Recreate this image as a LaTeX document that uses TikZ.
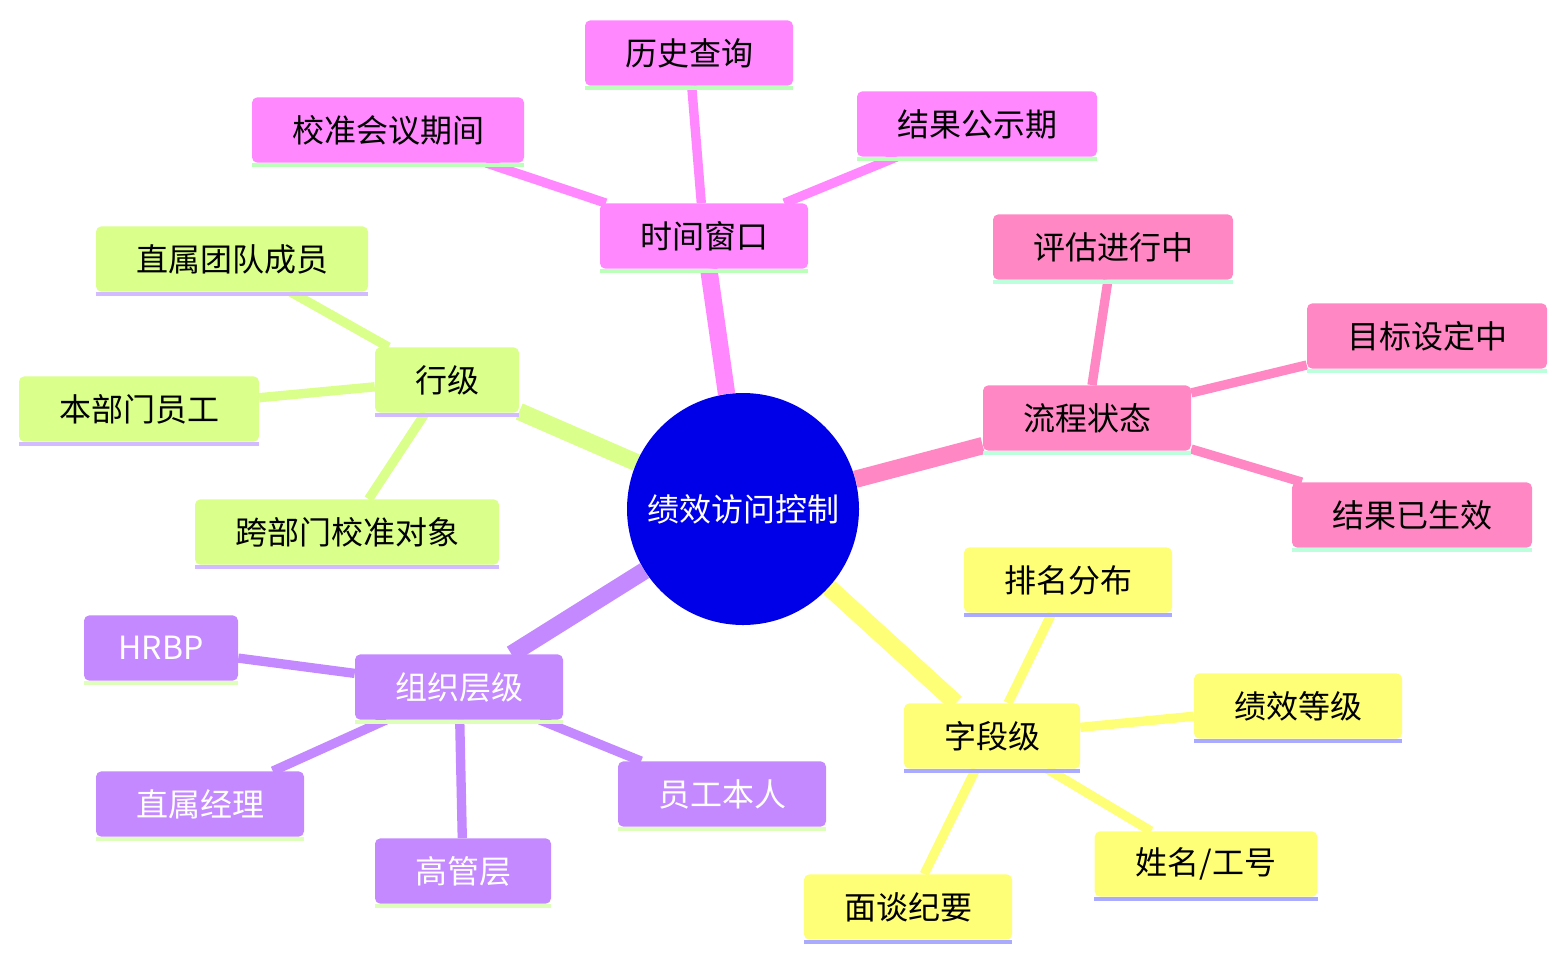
\documentclass[tikz,border=0pt]{standalone}
\usepackage{fontspec}
\setmainfont{Noto Sans CJK SC}
\usetikzlibrary{backgrounds}

\definecolor{timefill}{HTML}{FF88FF}
\definecolor{timeline}{HTML}{BBFFBB}
\definecolor{rowfill}{HTML}{DAFF8A}
\definecolor{rowline}{HTML}{D2BBFF}
\definecolor{flowfill}{HTML}{FF88C4}
\definecolor{flowline}{HTML}{BBFFDD}
\definecolor{fieldfill}{HTML}{FFFF77}
\definecolor{fieldline}{HTML}{AAAAFF}
\definecolor{orgfill}{HTML}{C488FF}
\definecolor{orgline}{HTML}{DDFFBB}
\definecolor{rootfill}{HTML}{0000E8}

\begin{document}
\begin{tikzpicture}[x=0.75pt, y=-0.75pt,
  topic/.style={rectangle, rounded corners=4pt, minimum height=49pt,
                inner xsep=30pt, font=\fontsize{24}{28}\selectfont, text=black},
  root/.style={circle, fill=rootfill, minimum size=174pt, inner sep=0pt,
               font=\fontsize{24}{28}\selectfont, text=white},
  trunk/.style={line width=13pt},
  twig/.style={line width=7pt}
]
  \useasboundingbox (0,0) rectangle (1567,961);

  \node[root] (root) at (743,509) {绩效访问控制};

  % time window branch
  \node[topic, fill=timefill] (time) at (704,236) {时间窗口};
  \node[topic, fill=timefill] (hist) at (689,53) {历史查询};
  \node[topic, fill=timefill] (calib) at (388,130) {校准会议期间};
  \node[topic, fill=timefill] (publ) at (977,124) {结果公示期};

  % process state branch
  \node[topic, fill=flowfill] (flow) at (1087,418) {流程状态};
  \node[topic, fill=flowfill] (eval) at (1113,247) {评估进行中};
  \node[topic, fill=flowfill] (goal) at (1427,336) {目标设定中};
  \node[topic, fill=flowfill] (done) at (1412,515) {结果已生效};

  % row level branch
  \node[topic, fill=rowfill] (row) at (447,380) {行级};
  \node[topic, fill=rowfill] (team) at (232,259) {直属团队成员};
  \node[topic, fill=rowfill] (dept) at (139,409) {本部门员工};
  \node[topic, fill=rowfill] (cross) at (347,532) {跨部门校准对象};

  % field level branch
  \node[topic, fill=fieldfill] (field) at (992,736) {字段级};
  \node[topic, fill=fieldfill] (rank) at (1068,580) {排名分布};
  \node[topic, fill=fieldfill] (grade) at (1298,706) {绩效等级};
  \node[topic, fill=fieldfill, minimum width=167pt, inner xsep=0pt] (name) at (1206,864) {姓名/工号};
  \node[topic, fill=fieldfill] (memo) at (908,907) {面谈纪要};

  % org level branch
  \node[topic, fill=orgfill, text=white] (org) at (459,687) {组织层级};
  \node[topic, fill=orgfill, text=white, minimum width=115.5pt, inner xsep=0pt] (hrbp) at (161,648) {HRBP};
  \node[topic, fill=orgfill, text=white] (mgr) at (200,804) {直属经理};
  \node[topic, fill=orgfill, text=white] (exec) at (463,871) {高管层};
  \node[topic, fill=orgfill, text=white] (self) at (722,794) {员工本人};

  % underlines
  \foreach \n/\c in {time/timeline, hist/timeline, calib/timeline, publ/timeline,
                     flow/flowline, eval/flowline, goal/flowline, done/flowline,
                     row/rowline, team/rowline, dept/rowline, cross/rowline,
                     field/fieldline, rank/fieldline, grade/fieldline, name/fieldline, memo/fieldline,
                     org/orgline, hrbp/orgline, mgr/orgline, exec/orgline, self/orgline}
    \fill[\c] (\n.south west) rectangle ([yshift=-3pt]\n.south east);

  \begin{scope}[on background layer]
    \draw[trunk, timefill] (root) -- (time);
    \draw[twig, timefill] (time) -- (hist);
    \draw[twig, timefill] (time) -- (calib);
    \draw[twig, timefill] (time) -- (publ);

    \draw[trunk, flowfill] (root) -- (flow);
    \draw[twig, flowfill] (flow) -- (eval);
    \draw[twig, flowfill] (flow) -- (goal);
    \draw[twig, flowfill] (flow) -- (done);

    \draw[trunk, rowfill] (root) -- (row);
    \draw[twig, rowfill] (row) -- (team);
    \draw[twig, rowfill] (row) -- (dept);
    \draw[twig, rowfill] (row) -- (cross);

    \draw[trunk, fieldfill] (root) -- (field);
    \draw[twig, fieldfill] (field) -- (rank);
    \draw[twig, fieldfill] (field) -- (grade);
    \draw[twig, fieldfill] (field) -- (name);
    \draw[twig, fieldfill] (field) -- (memo);

    \draw[trunk, orgfill] (root) -- (org);
    \draw[twig, orgfill] (org) -- (hrbp);
    \draw[twig, orgfill] (org) -- (mgr);
    \draw[twig, orgfill] (org) -- (exec);
    \draw[twig, orgfill] (org) -- (self);
  \end{scope}
\end{tikzpicture}
\end{document}
